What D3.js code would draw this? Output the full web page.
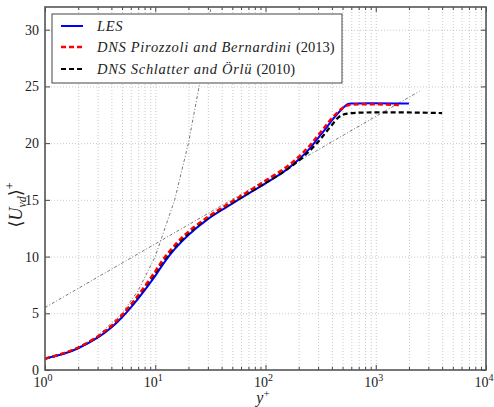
<!DOCTYPE html>
<html>
<head>
<meta charset="utf-8">
<script src="https://cdn.jsdelivr.net/npm/d3@7"></script>
<style>
  body { margin: 0; background: #fff; }
  svg { font-family: "Liberation Serif", "DejaVu Serif", serif; }
  .grid line { stroke: #bdbdbd; stroke-width: 0.8; stroke-dasharray: 1,2; }
  .grid path { display: none; }
  .tk path { display: none; }
  .tk line { stroke: #444; stroke-width: 1; }
</style>
</head>
<body>
<svg id="chart" width="494" height="407"></svg>
<script>
// LES profile
const lesY = [1, 1.5, 2, 3, 4, 5, 7, 10, 12, 15, 20, 30, 45, 70, 100, 150, 200, 250, 300, 350, 400, 500, 560, 620, 2000];
const lesU = [1.0, 1.45, 1.92, 2.85, 3.75, 4.65, 6.3, 8.3, 9.45, 10.65, 11.9, 13.3, 14.4, 15.55, 16.45, 17.55, 18.55, 19.5, 20.45, 21.25, 22.0, 23.05, 23.45, 23.5, 23.5];
// DNS Pirozzoli and Bernardini (2013)
const pbY = [1, 1.5, 2, 3, 4, 5, 7, 10, 12, 15, 20, 30, 45, 70, 100, 150, 200, 250, 300, 350, 400, 500, 570, 1650];
const pbU = [1.0, 1.5, 1.98, 2.95, 3.9, 4.85, 6.6, 8.7, 9.85, 11.0, 12.2, 13.5, 14.6, 15.75, 16.7, 17.8, 18.8, 19.75, 20.7, 21.5, 22.2, 23.1, 23.35, 23.35];
// DNS Schlatter and Örlü (2010)
const soY = [1, 1.5, 2, 3, 4, 5, 7, 10, 12, 15, 20, 30, 45, 70, 100, 150, 200, 250, 300, 350, 400, 470, 550, 4000];
const soU = [1.0, 1.48, 1.96, 2.92, 3.85, 4.8, 6.5, 8.55, 9.7, 10.85, 12.05, 13.4, 14.5, 15.6, 16.5, 17.55, 18.45, 19.3, 20.1, 20.9, 21.6, 22.35, 22.6, 22.65];
// reference laws: U = y and U = ln(y)/0.41 + 5.5
const viscY = [1, 1.5, 2, 3, 5, 7, 10, 15, 20, 25, 32];
const logY = [1, 2500];
const kappa = 0.41, B = 5.5;

const yTicks = [0, 5, 10, 15, 20, 25, 30];
const xMajor = [1, 10, 100, 1000, 10000];
const xLabels = ["0", "1", "2", "3", "4"];

const svg = d3.select("#chart");
const L = 45, R = 486, T = 7, Bm = 370;
const x = d3.scaleLog().domain([1, 1e4]).range([L, R]);
const y = d3.scaleLinear().domain([0, 32]).range([Bm, T]);

const xMinor = [];
for (let d = 1; d < 1e4; d *= 10) for (let k = 2; k <= 9; k++) xMinor.push(d * k);

// grid
svg.append("g").attr("class", "grid").attr("transform", `translate(0,${Bm})`)
  .call(d3.axisBottom(x).tickValues(xMajor.concat(xMinor)).tickSize(-(Bm - T)).tickFormat(""));
svg.append("g").attr("class", "grid").attr("transform", `translate(${L},0)`)
  .call(d3.axisLeft(y).tickValues(yTicks.slice(1)).tickSize(-(R - L)).tickFormat(""));

// reference lines
const line = d3.line().x(d => x(d[0])).y(d => y(d[1]));
svg.append("path").datum(viscY.map(v => [v, v]))
  .attr("d", line).attr("fill", "none").attr("stroke", "#666")
  .attr("stroke-width", 0.9).attr("stroke-dasharray", "3,2,1,2");
const logPts = d3.range(0, 41).map(i => Math.pow(10, Math.log10(logY[0]) + i / 40 * (Math.log10(logY[1]) - Math.log10(logY[0]))));
svg.append("path").datum(logPts.map(v => [v, Math.log(v) / kappa + B]))
  .attr("d", line).attr("fill", "none").attr("stroke", "#666")
  .attr("stroke-width", 0.9).attr("stroke-dasharray", "3,2,1,2");

const curve = d3.line().x(d => x(d[0])).y(d => y(d[1])).curve(d3.curveCatmullRom.alpha(0.5));
const zip = (a, b) => a.map((v, i) => [v, b[i]]);
svg.append("path").datum(zip(lesY, lesU)).attr("d", curve)
  .attr("fill", "none").attr("stroke", "#0000ff").attr("stroke-width", 2);
svg.append("path").datum(zip(soY, soU)).attr("d", curve)
  .attr("fill", "none").attr("stroke", "#000").attr("stroke-width", 2.2).attr("stroke-dasharray", "5,3");
svg.append("path").datum(zip(pbY, pbU)).attr("d", curve)
  .attr("fill", "none").attr("stroke", "#ff0000").attr("stroke-width", 2.4).attr("stroke-dasharray", "5,3");

// ticks on all four sides, pointing in
svg.append("g").attr("class", "tk").attr("transform", `translate(0,${Bm})`)
  .call(d3.axisBottom(x).tickValues(xMajor).tickSize(-5).tickFormat(""));
svg.append("g").attr("class", "tk").attr("transform", `translate(0,${Bm})`)
  .call(d3.axisBottom(x).tickValues(xMinor).tickSize(-3).tickFormat(""));
svg.append("g").attr("class", "tk").attr("transform", `translate(0,${T})`)
  .call(d3.axisTop(x).tickValues(xMajor).tickSize(-5).tickFormat(""));
svg.append("g").attr("class", "tk").attr("transform", `translate(0,${T})`)
  .call(d3.axisTop(x).tickValues(xMinor).tickSize(-3).tickFormat(""));
svg.append("g").attr("class", "tk").attr("transform", `translate(${L},0)`)
  .call(d3.axisLeft(y).tickValues(yTicks).tickSize(-5).tickFormat(""));
svg.append("g").attr("class", "tk").attr("transform", `translate(${R},0)`)
  .call(d3.axisRight(y).tickValues(yTicks).tickSize(-5).tickFormat(""));

// frame
svg.append("rect").attr("x", L).attr("y", T).attr("width", R - L).attr("height", Bm - T)
  .attr("fill", "none").attr("stroke", "#555").attr("stroke-width", 1.6);

// tick labels
svg.append("g").selectAll("text").data(yTicks).join("text")
  .attr("x", L - 6).attr("y", d => y(d) + 5).attr("text-anchor", "end")
  .attr("font-size", 14).attr("fill", "#222").text(d => d);
const xl = svg.append("g").selectAll("text").data(xMajor).join("text")
  .attr("x", (d, i) => x(d) - 2).attr("y", Bm + 17).attr("text-anchor", "middle")
  .attr("font-size", 14).attr("fill", "#222");
xl.append("tspan").text("10");
xl.append("tspan").attr("dy", -6).attr("font-size", 10).text((d, i) => xLabels[i]);

// axis titles
svg.append("text").attr("x", 263).attr("y", 403).attr("text-anchor", "middle")
  .attr("font-size", 16).attr("fill", "#222")
  .call(t => { t.append("tspan").attr("font-style", "italic").text("y"); t.append("tspan").attr("dy", -6).attr("font-size", 11).text("+"); });
const yt = svg.append("text").attr("transform", "translate(22,205) rotate(-90)")
  .attr("text-anchor", "middle").attr("font-size", 18).attr("fill", "#222");
yt.append("tspan").text("⟨");
yt.append("tspan").attr("font-style", "italic").text("U");
yt.append("tspan").attr("dy", 4).attr("font-size", 12).attr("font-style", "italic").text("vd");
yt.append("tspan").attr("dy", -4).text("⟩");
yt.append("tspan").attr("dy", -8).attr("font-size", 12).text("+");

// legend
const lg = svg.append("g");
lg.append("rect").attr("x", 52).attr("y", 14).attr("width", 290).attr("height", 69)
  .attr("fill", "#fff").attr("stroke", "#444").attr("stroke-width", 1);
const legendItems = [
  { c: "#0000ff", dash: null, w: 2, it: "LES", up: "" },
  { c: "#ff0000", dash: "5,3", w: 2.4, it: "DNS Pirozzoli and Bernardini ", up: "(2013)" },
  { c: "#000", dash: "5,3", w: 2.2, it: "DNS Schlatter and Örlü ", up: "(2010)" }
];
const rowY = [26, 47, 69];
legendItems.forEach((d, i) => {
  lg.append("line").attr("x1", 61).attr("x2", 83).attr("y1", rowY[i]).attr("y2", rowY[i])
    .attr("stroke", d.c).attr("stroke-width", d.w).attr("stroke-dasharray", d.dash);
  const t = lg.append("text").attr("x", 97).attr("y", rowY[i] + 5).attr("font-size", 14.5).attr("fill", "#222");
  t.append("tspan").attr("font-style", "italic").attr("letter-spacing", 0.7).text(d.it);
  t.append("tspan").text(d.up);
});
</script>
</body>
</html>
